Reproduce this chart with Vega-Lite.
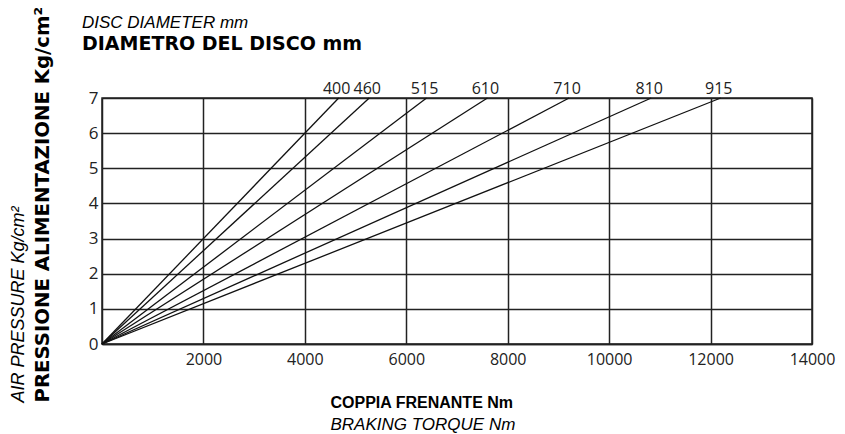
{
  "$schema": "https://vega.github.io/schema/vega-lite/v6.json",
  "width": 710,
  "height": 246,
  "autosize": {"type": "none"},
  "padding": {"left": 102, "top": 98, "right": 33, "bottom": 90},
  "background": "white",
  "config": {"view": {"stroke": "#222", "strokeWidth": 1.5}},
  "title": {
    "text": "DISC DIAMETER mm",
    "subtitle": "DIAMETRO DEL DISCO mm",
    "anchor": "start",
    "frame": "group",
    "dx": -20,
    "offset": -49,
    "font": "Liberation Sans",
    "fontStyle": "italic",
    "fontWeight": "normal",
    "fontSize": 17,
    "color": "#000",
    "subtitleFont": "DejaVu Sans",
    "subtitleFontWeight": "bold",
    "subtitleFontSize": 19,
    "subtitleColor": "#000",
    "subtitlePadding": 3
  },
  "datasets": {
    "lines": [
      {"diameter": "400", "torque": 0, "pressure": 0},
      {"diameter": "400", "torque": 4667, "pressure": 7},
      {"diameter": "460", "torque": 0, "pressure": 0},
      {"diameter": "460", "torque": 5270, "pressure": 7},
      {"diameter": "515", "torque": 0, "pressure": 0},
      {"diameter": "515", "torque": 6400, "pressure": 7},
      {"diameter": "610", "torque": 0, "pressure": 0},
      {"diameter": "610", "torque": 7600, "pressure": 7},
      {"diameter": "710", "torque": 0, "pressure": 0},
      {"diameter": "710", "torque": 9210, "pressure": 7},
      {"diameter": "810", "torque": 0, "pressure": 0},
      {"diameter": "810", "torque": 10830, "pressure": 7},
      {"diameter": "915", "torque": 0, "pressure": 0},
      {"diameter": "915", "torque": 12200, "pressure": 7}
    ]
  },
  "layer": [
    {
      "data": {"name": "lines"},
      "mark": {"type": "line", "color": "#111", "strokeWidth": 1.3},
      "encoding": {
        "x": {
          "field": "torque",
          "type": "quantitative",
          "scale": {"domain": [0, 14000], "nice": false},
          "axis": {
            "values": [2000, 4000, 6000, 8000, 10000, 12000, 14000],
            "format": "d",
            "grid": true,
            "gridColor": "#222",
            "gridWidth": 1.5,
            "gridOpacity": 1,
            "domainColor": "#222",
            "domainWidth": 1.5,
            "ticks": false,
            "labelFont": "Open Sans",
            "labelFontSize": 16,
            "labelColor": "#222",
            "labelPadding": 7,
            "labelFlush": false,
            "title": "COPPIA FRENANTE Nm",
            "titleFont": "Liberation Sans",
            "titleFontWeight": "bold",
            "titleFontSize": 16,
            "titleColor": "#000",
            "titleAlign": "left",
            "titleBaseline": "alphabetic",
            "titleX": 228,
            "titleY": 63
          }
        },
        "y": {
          "field": "pressure",
          "type": "quantitative",
          "scale": {"domain": [0, 7], "nice": false},
          "axis": {
            "values": [0, 1, 2, 3, 4, 5, 6, 7],
            "grid": true,
            "gridColor": "#222",
            "gridWidth": 1.5,
            "gridOpacity": 1,
            "domainColor": "#222",
            "domainWidth": 1.5,
            "ticks": false,
            "labelFont": "Open Sans",
            "labelFontSize": 17,
            "labelColor": "#222",
            "labelPadding": 4,
            "labelFlush": false,
            "title": "PRESSIONE ALIMENTAZIONE Kg/cm²",
            "titleFont": "DejaVu Sans",
            "titleFontWeight": "bold",
            "titleFontSize": 19.7,
            "titleColor": "#000",
            "titleAngle": 270,
            "titleAlign": "left",
            "titleBaseline": "alphabetic",
            "titleX": -54,
            "titleY": 304
          }
        },
        "detail": {"field": "diameter", "type": "nominal"}
      }
    },
    {
      "data": {"name": "lines"},
      "transform": [{"filter": "datum.pressure == 7"}],
      "mark": {"type": "text", "baseline": "alphabetic", "align": "center", "dy": -4, "dx": -2, "font": "Open Sans", "fontSize": 16, "color": "#222"},
      "encoding": {
        "x": {
          "field": "torque",
          "type": "quantitative",
          "axis": {
            "orient": "bottom",
            "labels": false,
            "ticks": false,
            "domain": false,
            "grid": false,
            "title": "BRAKING TORQUE Nm",
            "titleFont": "Liberation Sans",
            "titleFontStyle": "italic",
            "titleFontWeight": "normal",
            "titleFontSize": 17,
            "titleColor": "#000",
            "titleAlign": "left",
            "titleBaseline": "alphabetic",
            "titleX": 228,
            "titleY": 85
          }
        },
        "y": {
          "field": "pressure",
          "type": "quantitative",
          "axis": {
            "orient": "left",
            "labels": false,
            "ticks": false,
            "domain": false,
            "grid": false,
            "title": "AIR PRESSURE Kg/cm²",
            "titleFont": "Liberation Sans",
            "titleFontStyle": "italic",
            "titleFontWeight": "normal",
            "titleFontSize": 18,
            "titleColor": "#000",
            "titleAngle": 270,
            "titleAlign": "left",
            "titleBaseline": "alphabetic",
            "titleX": -79,
            "titleY": 304
          }
        },
        "text": {"field": "diameter", "type": "nominal"}
      }
    }
  ],
  "resolve": {"axis": {"x": "independent", "y": "independent"}}
}
